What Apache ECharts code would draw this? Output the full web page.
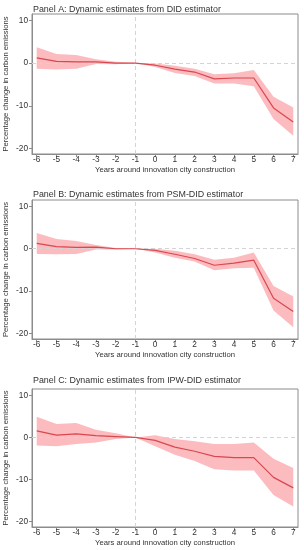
<!DOCTYPE html>
<html>
<head>
<meta charset="utf-8">
<script src="https://cdn.jsdelivr.net/npm/echarts@6/dist/echarts.min.js"></script>
<style>html,body{margin:0;padding:0;background:#fff;}#c{width:304px;height:550px;}</style>
</head>
<body>
<div id="c"></div>
<script>
var years = [-6,-5,-4,-3,-2,-1,0,1,2,3,4,5,6,7];
var yTicks = [10,0,-10,-20];
var titles = ['Panel A: Dynamic estimates from DID estimator','Panel B: Dynamic estimates from PSM-DID estimator','Panel C: Dynamic estimates from IPW-DID estimator'];
var xTitle = 'Years around innovation city construction';
var yTitle = 'Percentage change in carbon emissions';

var estA = [1.2,0.4,0.3,0.3,0,0,-0.5,-1.4,-2.1,-3.7,-3.5,-3.5,-10.5,-13.8];
var upA  = [3.7,2.1,1.9,0.9,0.3,0,-0.1,-0.6,-1.3,-2.6,-2.4,-1.6,-7.9,-10.4];
var loA  = [-1.3,-1.5,-1.3,-0.2,-0.3,0,-0.9,-2.3,-3.0,-4.8,-4.8,-5.4,-13.1,-17.0];

var estB = [1.25,0.5,0.3,0.4,0,0,-0.4,-1.3,-2.3,-3.9,-3.4,-2.7,-11.7,-14.8];
var upB  = [3.7,2.3,1.8,0.9,0.2,0,0,-0.5,-1.3,-2.6,-2.1,-0.9,-8.8,-11.3];
var loB  = [-1.25,-1.3,-1.25,-0.2,-0.2,0,-0.9,-2.1,-3.0,-5.1,-4.6,-4.5,-14.6,-18.5];

var estC = [1.55,0.55,0.85,0.4,0.2,0,-0.7,-2.3,-3.3,-4.5,-4.8,-4.8,-9.5,-12.0];
var upC  = [4.9,3.2,3.4,1.8,1.0,0,0.5,-0.4,-0.9,-1.6,-1.6,-1.2,-5.1,-7.3];
var loC  = [-1.9,-2.1,-1.6,-1.2,-0.4,0,-2.1,-4.1,-5.6,-7.6,-7.9,-7.9,-13.7,-16.4];

var panels = [[estA,upA,loA],[estB,upB,loB],[estC,upC,loC]];
var gridTops = [14,200,389];
var gridHeights = [140,139,138];
var titleTops = [5,190,376];

var FONT = 'Liberation Sans';
var TXT = '#333';
var AX = '#8c8c8c';

var option = {
  animation:false,
  backgroundColor:'#fff',
  textStyle:{fontFamily:FONT},
  title:[], grid:[], xAxis:[], yAxis:[], series:[]
};

panels.forEach(function(p,i){
  option.title.push({text:titles[i], left:33, top:titleTops[i], padding:0,
    textStyle:{fontFamily:FONT,fontSize:8.9,fontWeight:'normal',color:TXT}});
  option.grid.push({left:32, right:6, top:gridTops[i], height:gridHeights[i],
    outerBoundsMode:'none', containLabel:false,
    show:true, borderColor:AX, borderWidth:1, backgroundColor:'#fff'});
  option.xAxis.push({type:'value', gridIndex:i, min:-6.24, max:7.24,
    name:xTitle, nameLocation:'middle', nameGap:12, nameMoveOverlap:false,
    nameTextStyle:{fontFamily:FONT,fontSize:7.7,color:TXT},
    axisLine:{show:true,onZero:false,lineStyle:{color:AX}},
    axisTick:{show:true,length:3,lineStyle:{color:AX},customValues:years},
    axisLabel:{fontFamily:FONT,fontSize:8.3,color:TXT,margin:2,customValues:years},
    splitLine:{show:false}});
  option.yAxis.push({type:'value', gridIndex:i, min:-21.3, max:11.5,
    name:yTitle, nameLocation:'middle', nameGap:22, nameMoveOverlap:false,
    nameTextStyle:{fontFamily:FONT,fontSize:7.6,color:TXT},
    axisLine:{show:true,onZero:false,lineStyle:{color:AX}},
    axisTick:{show:true,length:3,lineStyle:{color:AX},customValues:yTicks},
    axisLabel:{fontFamily:FONT,fontSize:8.3,color:TXT,margin:4,customValues:yTicks},
    splitLine:{show:false}});
  var band = years.map(function(x,k){return [x,p[2][k],p[1][k]];});
  var est = years.map(function(x,k){return [x,p[0][k]];});
  option.series.push({type:'line', xAxisIndex:i, yAxisIndex:i, data:[], z:1,
    markLine:{silent:true, symbol:'none', label:{show:false}, animation:false,
      lineStyle:{color:'#d4d4d4', type:[4,3], width:1},
      data:[{yAxis:0},{xAxis:-1}]}});
  option.series.push({type:'custom', xAxisIndex:i, yAxisIndex:i, data:[[0]], z:2, silent:true,
    renderItem:(function(b){return function(params, api){
      var pts=[];
      for(var k=0;k<b.length;k++){pts.push(api.coord([b[k][0],b[k][2]]));}
      for(var k=b.length-1;k>=0;k--){pts.push(api.coord([b[k][0],b[k][1]]));}
      return {type:'polygon', shape:{points:pts}, style:{fill:'rgba(251,170,174,0.8)'}};
    };})(band)});
  option.series.push({type:'line', xAxisIndex:i, yAxisIndex:i, data:est,
    symbol:'none', lineStyle:{color:'#d9474f', width:1.2}, z:5});
});

var chart = echarts.init(document.getElementById('c'), null, {renderer:'canvas'});
chart.setOption(option);
</script>
</body>
</html>
